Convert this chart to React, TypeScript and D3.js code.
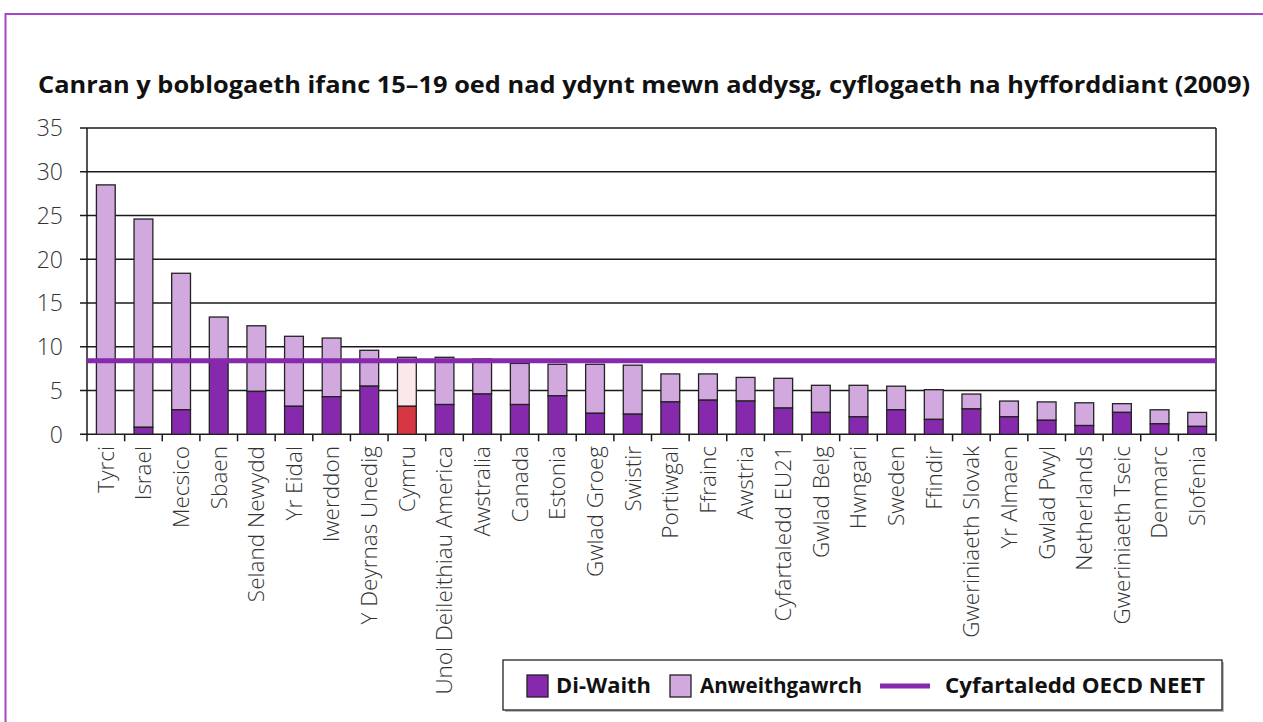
import React from "react";
import * as d3 from "d3";

const categories = [
  "Tyrci", "Israel", "Mecsico", "Sbaen", "Seland Newydd", "Yr Eidal", "Iwerddon",
  "Y Deyrnas Unedig", "Cymru", "Unol Deileithiau America", "Awstralia", "Canada",
  "Estonia", "Gwlad Groeg", "Swistir", "Portiwgal", "Ffrainc", "Awstria",
  "Cyfartaledd EU21", "Gwlad Belg", "Hwngari", "Sweden", "Ffindir",
  "Gweriniaeth Slovak", "Yr Almaen", "Gwlad Pwyl", "Netherlands",
  "Gweriniaeth Tseic", "Denmarc", "Slofenia",
];
const diWaith = [
  0, 0.8, 2.8, 8.4, 4.9, 3.2, 4.3, 5.5, 3.2, 3.4, 4.6, 3.4, 4.4, 2.4, 2.3,
  3.7, 3.9, 3.8, 3.0, 2.5, 2.0, 2.8, 1.7, 2.9, 2.0, 1.6, 1.0, 2.5, 1.2, 0.9,
];
const anweithgawrch = [
  28.5, 23.8, 15.6, 5.0, 7.5, 8.0, 6.7, 4.1, 5.6, 5.4, 4.0, 4.7, 3.6, 5.6, 5.6,
  3.2, 3.0, 2.7, 3.4, 3.1, 3.6, 2.7, 3.4, 1.7, 1.8, 2.1, 2.6, 1.0, 1.6, 1.6,
];
const oecdAverage = 8.4;
const yTicks = [0, 5, 10, 15, 20, 25, 30, 35];
const highlight = "Cymru";
const title = "Canran y boblogaeth ifanc 15–19 oed nad ydynt mewn addysg, cyflogaeth na hyfforddiant (2009)";
const legendLabels = ["Di-Waith", "Anweithgawrch", "Cyfartaledd OECD NEET"];

const DARK = "#8629ad";
const LIGHT = "#d1a9de";
const RED = "#d63742";
const PINK = "#fbe9ea";
const FRAME = "#a846c9";

export default function App() {
  const W = 1263, H = 722;
  const left = 87, right = 1216, top = 128, bottom = 434.3;
  const x = d3.scaleBand<string>().domain(categories).range([left, right]).paddingInner(0.5).paddingOuter(0.25);
  const y = d3.scaleLinear().domain([0, 35]).range([bottom, top]);
  const step = x.step();
  const font = "'Open Sans', sans-serif";

  return (
    <svg width={W} height={H} style={{ position: "absolute", left: 0, top: 0 }}>
      <rect x={0} y={0} width={W} height={H} fill="#fff" />
      <path d={`M5.5,${H + 5} V14 H${W + 5}`} fill="none" stroke={FRAME} strokeWidth={2} />
      <text x={38} y={93} fontFamily={font} fontWeight={700} fontSize={24} fill="#111"
        textLength={1212} lengthAdjust="spacingAndGlyphs">{title}</text>

      {yTicks.map((t) => (
        <g key={t}>
          <line x1={left - 7} x2={right} y1={y(t)} y2={y(t)} stroke="#1a1a1a" strokeWidth={1.5} />
          <text x={63} y={y(t)} dy="0.36em" textAnchor="end" fontFamily={font} fontWeight={300}
            fontSize={23} fill="#333">{t}</text>
        </g>
      ))}
      <line x1={left} x2={left} y1={top} y2={bottom} stroke="#1a1a1a" strokeWidth={1.5} />
      <line x1={right} x2={right} y1={top} y2={bottom} stroke="#1a1a1a" strokeWidth={1.5} />

      {categories.map((c, i) => {
        const bx = x(c)!;
        const bw = x.bandwidth();
        const isH = c === highlight;
        const d = diWaith[i];
        const a = anweithgawrch[i];
        return (
          <g key={c}>
            <rect x={bx} y={y(d + a)} width={bw} height={y(d) - y(d + a)} fill={isH ? PINK : LIGHT}
              stroke="#222" strokeWidth={1.3} />
            <rect x={bx} y={y(d)} width={bw} height={y(0) - y(d)} fill={isH ? RED : DARK}
              stroke="#222" strokeWidth={1.3} />
          </g>
        );
      })}

      <line x1={left} x2={right} y1={y(oecdAverage)} y2={y(oecdAverage)} stroke={DARK} strokeWidth={5} />

      {d3.range(categories.length + 1).map((i) => (
        <line key={i} x1={left + i * step} x2={left + i * step} y1={bottom} y2={bottom + 7}
          stroke="#1a1a1a" strokeWidth={1.5} />
      ))}
      {categories.map((c) => {
        const cx = x(c)! + x.bandwidth() / 2;
        return (
          <text key={c} transform={`translate(${cx},446) rotate(-90)`} textAnchor="end" dy="0.35em"
            fontFamily={font} fontWeight={300} fontSize={22.5} fill="#333">{c}</text>
        );
      })}

      <g>
        <rect x={505} y={662} width={719} height={50} fill="#bbb" />
        <rect x={503} y={660} width={719} height={50} fill="#fff" stroke="#222" strokeWidth={1.3} />
        <rect x={527} y={675} width={21} height={22} fill={DARK} stroke="#222" strokeWidth={1.3} />
        <text x={556} y={686} dy="0.35em" fontFamily={font} fontWeight={700} fontSize={21} fill="#111"
          textLength={95} lengthAdjust="spacingAndGlyphs">{legendLabels[0]}</text>
        <rect x={670} y={675} width={21} height={22} fill={LIGHT} stroke="#222" strokeWidth={1.3} />
        <text x={700} y={686} dy="0.35em" fontFamily={font} fontWeight={700} fontSize={21} fill="#111"
          textLength={162} lengthAdjust="spacingAndGlyphs">{legendLabels[1]}</text>
        <line x1={880} x2={930} y1={686} y2={686} stroke={DARK} strokeWidth={5} />
        <text x={945} y={686} dy="0.35em" fontFamily={font} fontWeight={700} fontSize={21} fill="#111"
          textLength={260} lengthAdjust="spacingAndGlyphs">{legendLabels[2]}</text>
      </g>
    </svg>
  );
}
